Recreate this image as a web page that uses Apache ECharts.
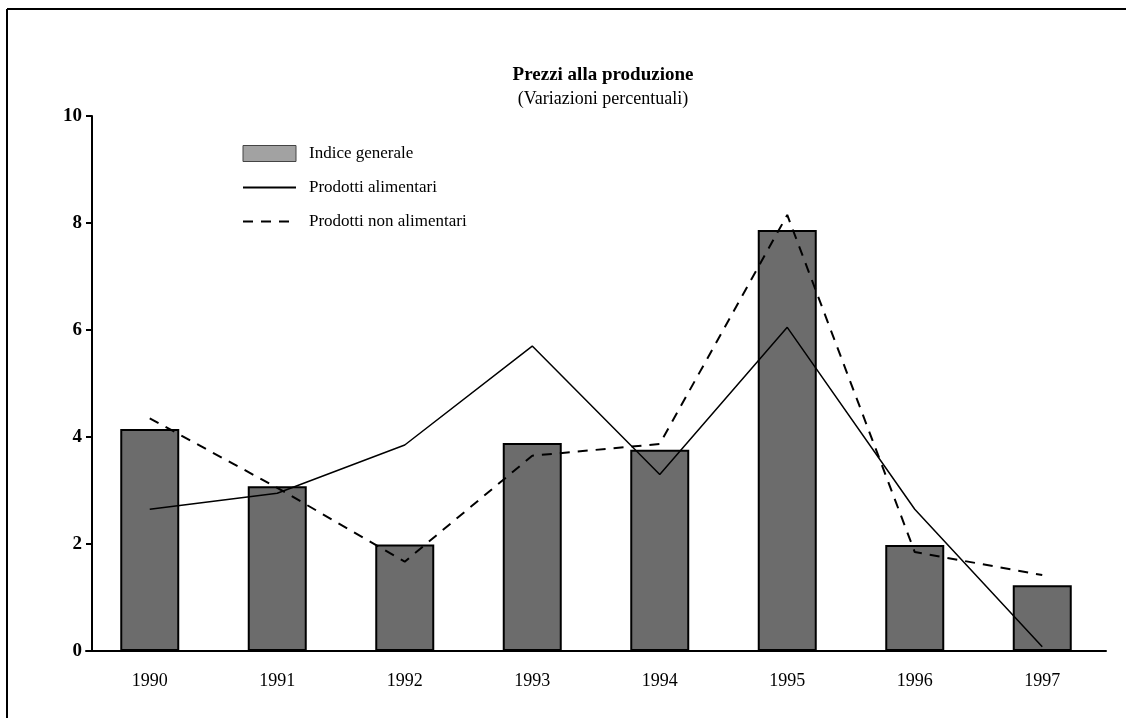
<!DOCTYPE html>
<html>
<head>
<meta charset="utf-8">
<script src="https://cdn.jsdelivr.net/npm/echarts@6/dist/echarts.min.js"></script>
<style>
  html, body { margin: 0; padding: 0; background: #fff; }
  #chart { width: 1133px; height: 718px; }
</style>
</head>
<body>
<div id="chart"></div>
<script>
// dati
var anni = ["1990", "1991", "1992", "1993", "1994", "1995", "1996", "1997"];
var indiceGenerale = [4.15, 3.08, 1.99, 3.89, 3.76, 7.87, 1.98, 1.23];
var alimentari = [2.65, 2.95, 3.85, 5.7, 3.3, 6.05, 2.65, 0.08];
var nonAlimentari = [4.35, 3.05, 1.67, 3.65, 3.87, 8.15, 1.85, 1.42];
var yTicks = [0, 2, 4, 6, 8, 10];

var serif = "'Liberation Serif', 'DejaVu Serif', serif";
var myChart = echarts.init(document.getElementById("chart"));

var option = {
  backgroundColor: "#fff",
  animation: false,
  textStyle: { fontFamily: serif, color: "#000" },
  title: {
    text: "Prezzi alla produzione",
    subtext: "(Variazioni percentuali)",
    left: 598,
    textAlign: "center",
    top: 61,
    itemGap: 5,
    textStyle: { fontFamily: serif, fontSize: 19, fontWeight: "bold", color: "#000" },
    subtextStyle: { fontFamily: serif, fontSize: 18, color: "#000" }
  },
  legend: {
    orient: "vertical",
    left: 237,
    top: 140,
    itemWidth: 53,
    itemHeight: 16,
    itemGap: 17,
    textStyle: { fontFamily: serif, fontSize: 17, color: "#000", padding: [0, 0, 0, 8] },
    data: [
      { name: "Indice generale", icon: "rect", itemStyle: { color: "#a2a2a2", borderColor: "#444", borderWidth: 1 } },
      { name: "Prodotti alimentari", itemStyle: { opacity: 0 } },
      { name: "Prodotti non alimentari", itemStyle: { opacity: 0 } }
    ]
  },
  grid: {
    left: 86,
    right: 27,
    top: 116,
    bottom: 67
  },
  xAxis: {
    type: "category",
    data: anni,
    boundaryGap: true,
    axisLine: { lineStyle: { color: "#000", width: 2 } },
    axisTick: { alignWithLabel: true, length: 7, lineStyle: { color: "#000", width: 2 } },
    axisLabel: { color: "#000", fontFamily: serif, fontSize: 18, margin: 21 }
  },
  yAxis: {
    type: "value",
    min: 0,
    max: 10,
    interval: 2,
    offset: -6,
    splitLine: { show: false },
    axisLine: { show: true, lineStyle: { color: "#000", width: 2 } },
    axisTick: { show: true, length: 6, lineStyle: { color: "#000", width: 2 } },
    axisLabel: {
      color: "#000",
      fontFamily: serif,
      fontSize: 19,
      fontWeight: "bold",
      margin: 10,
      formatter: function (v) { return yTicks.indexOf(v) >= 0 ? String(v) : ""; }
    }
  },
  series: [
    {
      name: "Indice generale",
      type: "bar",
      data: indiceGenerale,
      barWidth: 59,
      itemStyle: { color: "#6c6c6c", borderColor: "#000", borderWidth: 2 },
      z: 1
    },
    {
      name: "Prodotti alimentari",
      type: "line",
      data: alimentari,
      symbol: "none",
      lineStyle: { color: "#000", width: 1.5, type: "solid" },
      itemStyle: { color: "#000" },
      z: 3
    },
    {
      name: "Prodotti non alimentari",
      type: "line",
      data: nonAlimentari,
      symbol: "none",
      lineStyle: { color: "#000", width: 2, type: [10, 8] },
      itemStyle: { color: "#000" },
      z: 3
    }
  ],
  graphic: [
    { type: "line", shape: { x1: 7, y1: 9, x2: 1126, y2: 9 }, style: { stroke: "#000", lineWidth: 2 } },
    { type: "line", shape: { x1: 7, y1: 9, x2: 7, y2: 718 }, style: { stroke: "#000", lineWidth: 2 } }
  ]
};

myChart.setOption(option);
</script>
</body>
</html>
